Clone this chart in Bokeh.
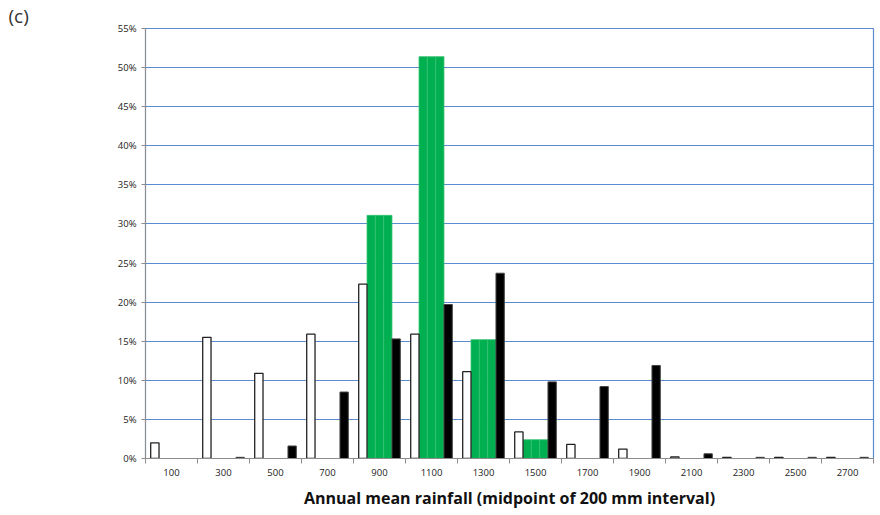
import numpy as np
from bokeh.plotting import figure
from bokeh.models import Range1d, FixedTicker, Title, ColumnDataSource
from bokeh.embed import file_html
from bokeh.resources import INLINE

categories = ["100", "300", "500", "700", "900", "1100", "1300",
              "1500", "1700", "1900", "2100", "2300", "2500", "2700"]
white = [2.0, 15.5, 10.9, 15.9, 22.3, 15.9, 11.1, 3.4, 1.8, 1.2, 0.2, 0.15, 0.15, 0.15]
green = [0.0, 0.0, 0.0, 0.0, 31.1, 51.4, 15.2, 2.4, 0.0, 0.0, 0.0, 0.0, 0.0, 0.0]
black = [0.0, 0.15, 1.6, 8.5, 15.3, 19.7, 23.7, 9.8, 9.2, 11.9, 0.6, 0.15, 0.15, 0.15]
y_ticks = [0, 5, 10, 15, 20, 25, 30, 35, 40, 45, 50, 55]

FONT = "Open Sans"
GRID = "#5b8bd0"
AXIS = "#8c8c8c"

n = len(categories)
centers = np.arange(n) + 0.5

p = figure(width=876, height=511, output_backend="svg", toolbar_location=None,
           x_range=Range1d(0, n), y_range=Range1d(0, y_ticks[-1]),
           min_border_left=145, min_border_right=3, min_border_top=27,
           min_border_bottom=53)
p.background_fill_color = "white"
p.border_fill_color = "white"
p.outline_line_color = GRID
p.outline_line_width = 1.2


def draw(vals, offset, width, **kw):
    xs = [c + offset for c, v in zip(centers, vals) if v > 0]
    tops = [v for v in vals if v > 0]
    src = ColumnDataSource(dict(x=xs, top=tops))
    p.vbar(x="x", top="top", bottom=0, width=width, source=src, **kw)


bw = 0.16
# green bars drawn as three adjacent slots
for off in (-bw, 0.0, bw):
    draw(green, off, bw, fill_color="#00b050", line_color="#35c274", line_width=0.8)
draw(white, -2 * bw, bw, fill_color="white", line_color="#222222", line_width=1.3)
draw(black, 2 * bw, bw, fill_color="black", line_color="#444444", line_width=1)

# grid
p.xgrid.visible = False
p.ygrid.ticker = FixedTicker(ticks=y_ticks)
p.ygrid.grid_line_color = GRID
p.ygrid.grid_line_width = 1.2

# y axis
p.yaxis.ticker = FixedTicker(ticks=y_ticks)
p.yaxis.major_label_overrides = {t: f"{t}%" for t in y_ticks}
p.yaxis.axis_line_color = AXIS
p.yaxis.major_tick_line_color = AXIS
p.yaxis.major_tick_out = 4
p.yaxis.major_tick_in = 0
p.yaxis.minor_tick_line_color = None
p.yaxis.major_label_text_font = FONT
p.yaxis.major_label_text_font_size = "9.5px"
p.yaxis.major_label_text_color = "#222222"
p.yaxis.major_label_standoff = 5

# x axis: labels at centers, tick marks at category boundaries
p.xaxis.ticker = FixedTicker(ticks=list(centers), minor_ticks=list(range(n + 1)))
p.xaxis.major_label_overrides = {float(c): lab for c, lab in zip(centers, categories)}
p.xaxis.axis_line_color = AXIS
p.xaxis.major_tick_line_color = None
p.xaxis.major_tick_out = 0
p.xaxis.major_tick_in = 0
p.xaxis.minor_tick_line_color = AXIS
p.xaxis.minor_tick_out = 5
p.xaxis.minor_tick_in = 0
p.xaxis.major_label_text_font = FONT
p.xaxis.major_label_text_font_size = "9.5px"
p.xaxis.major_label_text_color = "#222222"
p.xaxis.major_label_standoff = 5
p.xaxis.axis_label = "Annual mean rainfall (midpoint of 200 mm interval)"
p.xaxis.axis_label_text_font = FONT
p.xaxis.axis_label_text_font_style = "bold"
p.xaxis.axis_label_text_font_size = "16px"
p.xaxis.axis_label_text_color = "#111111"
p.xaxis.axis_label_standoff = 8

p.add_layout(Title(text="(c)", align="left", offset=-137, standoff=0,
                   text_font=FONT, text_font_size="19px", text_font_style="normal",
                   text_color="#333333"), "above")

open("out.html", "w").write(file_html(p, INLINE))
